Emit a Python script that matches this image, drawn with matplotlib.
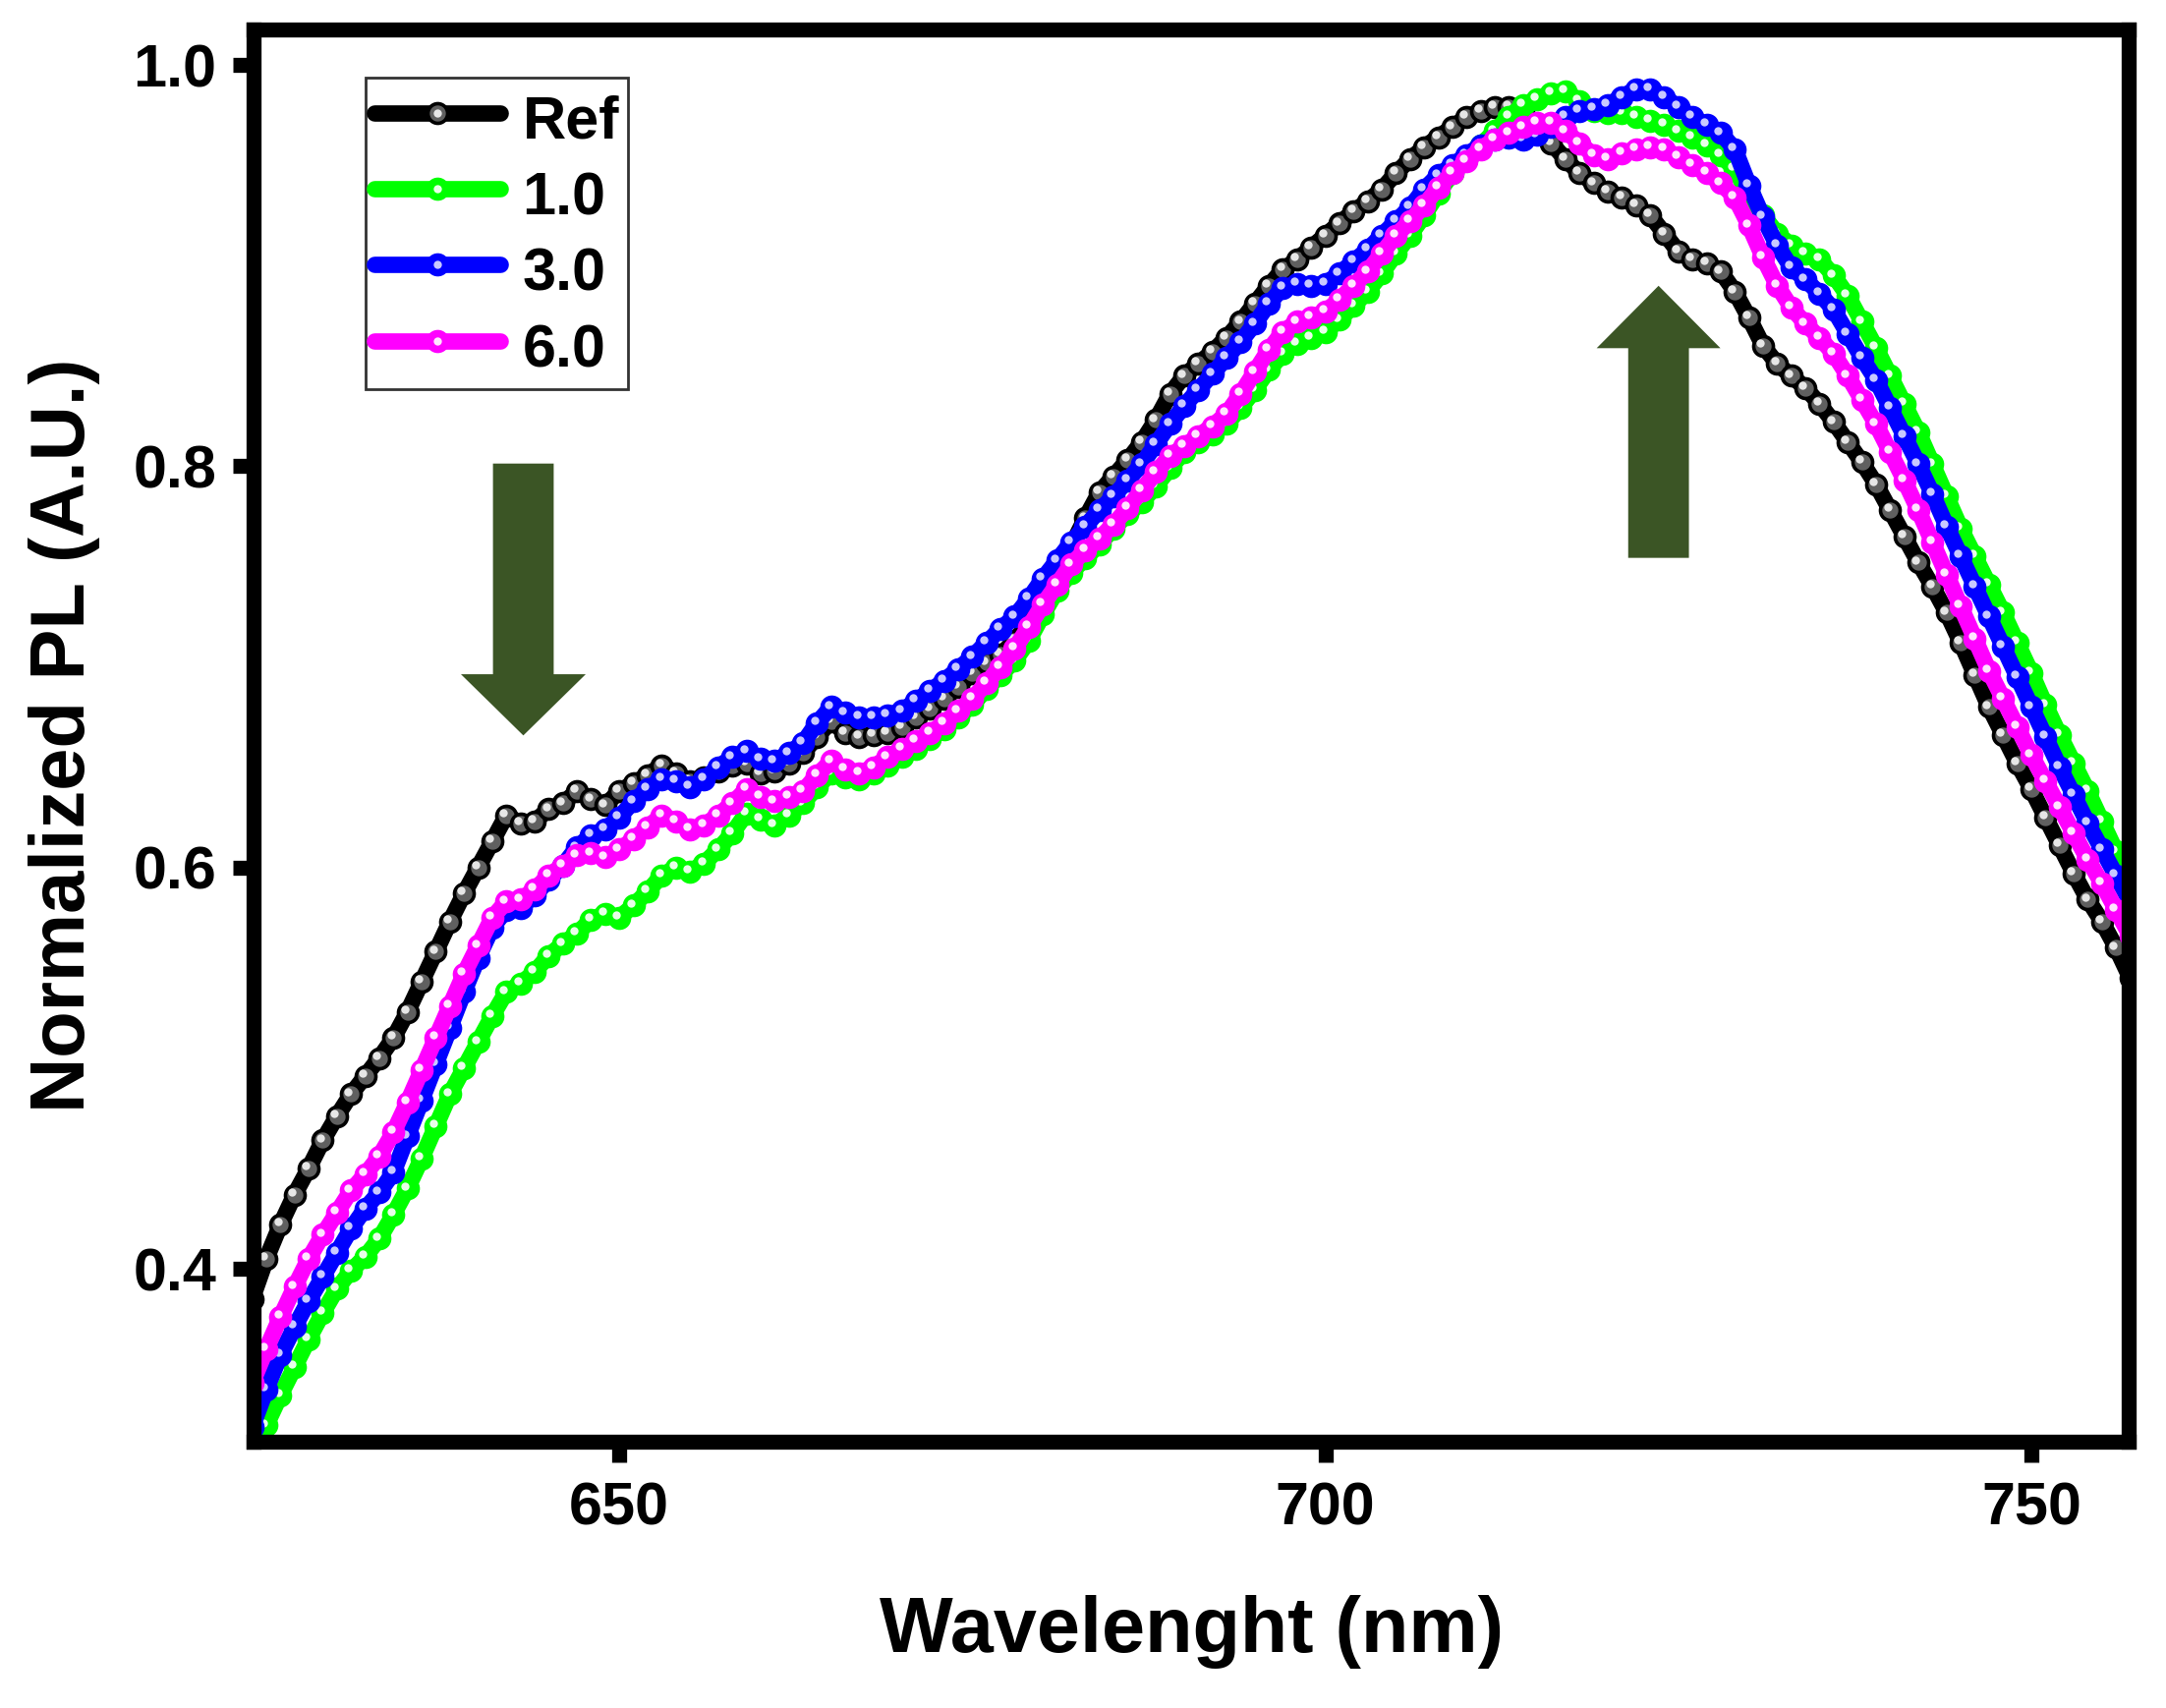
import numpy as np
import matplotlib
matplotlib.use("Agg")
from matplotlib import pyplot as plt
from matplotlib import transforms
from matplotlib.legend_handler import HandlerTuple

plt.rcParams['font.family'] = ['Liberation Sans', 'DejaVu Sans']
plt.rcParams['font.weight'] = 'bold'

# wavelength grid (nm), 1 nm step
wl = np.arange(624, 758)

ref = [0.385, 0.405, 0.422, 0.437, 0.450, 0.464, 0.476, 0.487, 0.496, 0.505,
       0.515, 0.528, 0.543, 0.558, 0.573, 0.587, 0.600, 0.613, 0.626, 0.622,
       0.623, 0.629, 0.632, 0.638, 0.634, 0.631, 0.638, 0.642, 0.646, 0.651,
       0.647, 0.643, 0.645, 0.648, 0.651, 0.652, 0.647, 0.648, 0.652, 0.657,
       0.665, 0.673, 0.667, 0.665, 0.666, 0.667, 0.670, 0.675, 0.679, 0.684,
       0.690, 0.697, 0.702, 0.706, 0.713, 0.722, 0.735, 0.748, 0.760, 0.774,
       0.787, 0.795, 0.803, 0.812, 0.823, 0.836, 0.845, 0.851, 0.857, 0.864,
       0.872, 0.881, 0.890, 0.898, 0.903, 0.909, 0.915, 0.921, 0.927, 0.932,
       0.938, 0.946, 0.953, 0.959, 0.964, 0.969, 0.974, 0.977, 0.979, 0.979,
       0.977, 0.969, 0.961, 0.953, 0.946, 0.941, 0.937, 0.934, 0.930, 0.925,
       0.916, 0.907, 0.903, 0.901, 0.897, 0.887, 0.874, 0.860, 0.851, 0.845,
       0.839, 0.831, 0.822, 0.812, 0.802, 0.791, 0.778, 0.765, 0.752, 0.740,
       0.727, 0.712, 0.696, 0.680, 0.666, 0.652, 0.639, 0.625, 0.611, 0.597,
       0.584, 0.573, 0.560, 0.545]

s10 = [0.308, 0.322, 0.337, 0.351, 0.365, 0.378, 0.390, 0.399, 0.406, 0.415,
       0.427, 0.440, 0.455, 0.471, 0.487, 0.500, 0.513, 0.526, 0.538, 0.542,
       0.548, 0.556, 0.562, 0.567, 0.574, 0.577, 0.575, 0.581, 0.588, 0.596,
       0.600, 0.598, 0.602, 0.609, 0.617, 0.627, 0.624, 0.621, 0.626, 0.632,
       0.640, 0.647, 0.645, 0.644, 0.647, 0.651, 0.655, 0.659, 0.664, 0.669,
       0.675, 0.681, 0.689, 0.696, 0.703, 0.713, 0.726, 0.738, 0.747, 0.754,
       0.761, 0.769, 0.776, 0.782, 0.790, 0.799, 0.807, 0.812, 0.816, 0.821,
       0.829, 0.838, 0.848, 0.856, 0.861, 0.864, 0.867, 0.873, 0.880, 0.887,
       0.896, 0.906, 0.915, 0.925, 0.936, 0.946, 0.953, 0.960, 0.967, 0.974,
       0.980, 0.983, 0.986, 0.987, 0.982, 0.977, 0.976, 0.976, 0.974, 0.972,
       0.970, 0.967, 0.964, 0.960, 0.955, 0.948, 0.935, 0.925, 0.916, 0.910,
       0.906, 0.903, 0.895, 0.885, 0.872, 0.859, 0.845, 0.831, 0.817, 0.801,
       0.785, 0.769, 0.755, 0.741, 0.727, 0.712, 0.697, 0.681, 0.666, 0.652,
       0.638, 0.623, 0.608, 0.594]

s30 = [0.321, 0.340, 0.357, 0.371, 0.384, 0.396, 0.408, 0.420, 0.430, 0.438,
       0.448, 0.466, 0.484, 0.502, 0.520, 0.538, 0.555, 0.570, 0.579, 0.580,
       0.586, 0.594, 0.601, 0.610, 0.616, 0.619, 0.625, 0.633, 0.639, 0.644,
       0.643, 0.640, 0.644, 0.650, 0.655, 0.658, 0.654, 0.653, 0.657, 0.662,
       0.672, 0.680, 0.677, 0.675, 0.675, 0.676, 0.678, 0.683, 0.688, 0.693,
       0.699, 0.705, 0.712, 0.719, 0.725, 0.734, 0.744, 0.753, 0.762, 0.770,
       0.778, 0.785, 0.793, 0.801, 0.811, 0.821, 0.830, 0.838, 0.846, 0.854,
       0.862, 0.871, 0.881, 0.889, 0.891, 0.890, 0.891, 0.896, 0.902, 0.908,
       0.915, 0.922, 0.929, 0.938, 0.945, 0.950, 0.955, 0.960, 0.963, 0.964,
       0.963, 0.965, 0.969, 0.974, 0.977, 0.978, 0.980, 0.984, 0.988, 0.988,
       0.984, 0.979, 0.974, 0.970, 0.966, 0.958, 0.940, 0.924, 0.910, 0.899,
       0.893, 0.886, 0.878, 0.866, 0.854, 0.843, 0.829, 0.815, 0.801, 0.786,
       0.770, 0.755, 0.740, 0.725, 0.710, 0.695, 0.680, 0.665, 0.650, 0.636,
       0.622, 0.609, 0.596, 0.583]

s60 = [0.343, 0.360, 0.376, 0.391, 0.405, 0.417, 0.428, 0.439, 0.447, 0.456,
       0.468, 0.483, 0.499, 0.515, 0.531, 0.547, 0.561, 0.575, 0.583, 0.584,
       0.589, 0.596, 0.601, 0.606, 0.607, 0.605, 0.609, 0.614, 0.620, 0.626,
       0.623, 0.619, 0.621, 0.626, 0.632, 0.639, 0.635, 0.633, 0.635, 0.638,
       0.646, 0.653, 0.649, 0.647, 0.650, 0.655, 0.659, 0.663, 0.667, 0.672,
       0.678, 0.684, 0.692, 0.700, 0.709, 0.720, 0.731, 0.741, 0.751, 0.758,
       0.764, 0.771, 0.779, 0.788, 0.797, 0.805, 0.810, 0.815, 0.820, 0.826,
       0.836, 0.847, 0.858, 0.867, 0.872, 0.874, 0.877, 0.883, 0.890, 0.897,
       0.906, 0.915, 0.922, 0.930, 0.939, 0.946, 0.952, 0.958, 0.963, 0.966,
       0.969, 0.971, 0.971, 0.967, 0.961, 0.955, 0.953, 0.956, 0.958, 0.959,
       0.958, 0.954, 0.950, 0.946, 0.941, 0.934, 0.920, 0.904, 0.890, 0.879,
       0.871, 0.864, 0.856, 0.845, 0.833, 0.821, 0.807, 0.793, 0.778, 0.762,
       0.746, 0.730, 0.714, 0.698, 0.684, 0.670, 0.656, 0.643, 0.630, 0.617,
       0.604, 0.592, 0.579, 0.566]

labels = ['Ref', '1.0', '3.0', '6.0']
colors = ['#000000', '#00ff00', '#0000ff', '#ff00ff']
ball_cols = ['#606060', '#00ff00', '#0000ff', '#ff00ff']
shine = ['#e6e6e6', '#e8ffe8', '#c8c8ff', '#ffe4ff']
series = [ref, s10, s30, s60]

fig = plt.figure(figsize=(11.02, 8.69), dpi=200)
ax = fig.add_axes([0.1171, 0.1559, 0.8657, 0.8268])

# highlight dots sit a bit up-left of each ball
hl_tr = transforms.offset_copy(ax.transData, fig=fig, x=-1.0, y=1.0, units='points')

handles = []
for y, lab, c, bc, sh in zip(series, labels, colors, ball_cols, shine):
    ln, = ax.plot(wl, y, '-', color=c, lw=6.0, marker='o', ms=7.2,
                  mfc=bc, mec=c, mew=1.3, solid_capstyle='round')
    hl, = ax.plot(wl, y, 'none', marker='o', ms=3.0, mfc=sh, mec='none',
                  transform=hl_tr)
    handles.append((ln, hl))

# arrows
arrow_col = '#3b5525'
ax.arrow(643.2, 0.8013, 0, 0.6658 - 0.8013, width=4.3, head_width=8.84,
         head_length=0.0305, length_includes_head=True, color=arrow_col, lw=0)
ax.arrow(723.6, 0.7543, 0, 0.8899 - 0.7543, width=4.3, head_width=8.77,
         head_length=0.0311, length_includes_head=True, color=arrow_col, lw=0)

ax.set_xlim(624.1, 756.9)
ax.set_ylim(0.3138, 1.0176)
ax.set_xticks([650, 700, 750])
ax.set_xticks([625, 675, 725], minor=True)
ax.set_yticks([0.4, 0.6, 0.8, 1.0])
ax.set_yticks([0.5, 0.7, 0.9], minor=True)
ax.tick_params(which='major', direction='out', length=7.7, width=5.5,
               labelsize=22)
ax.tick_params(which='minor', direction='out', length=2.5, width=5.5)
ax.tick_params(axis='x', which='major', pad=7)
ax.tick_params(axis='y', which='major', pad=6)
for sp in ax.spines.values():
    sp.set_linewidth(5.5)

ax.set_xlabel('Wavelenght (nm)', fontsize=28.5, fontweight='bold', labelpad=21)
ax.set_ylabel('Normalized PL (A.U.)', fontsize=28, fontweight='bold', labelpad=12)

leg = ax.legend(handles, labels,
                handler_map={tuple: HandlerTuple(ndivide=1, pad=0)},
                loc='upper left', bbox_to_anchor=(0.0597, 0.966), fontsize=22,
                frameon=True, fancybox=False, edgecolor='black',
                handlelength=2.1, handleheight=1.25, labelspacing=0.19,
                borderpad=0.15, handletextpad=0.36, borderaxespad=0)
leg.get_frame().set_linewidth(1.0)
for t in leg.get_texts():
    t.set_fontweight('bold')

fig.savefig('out.png', dpi=200, facecolor='white')
